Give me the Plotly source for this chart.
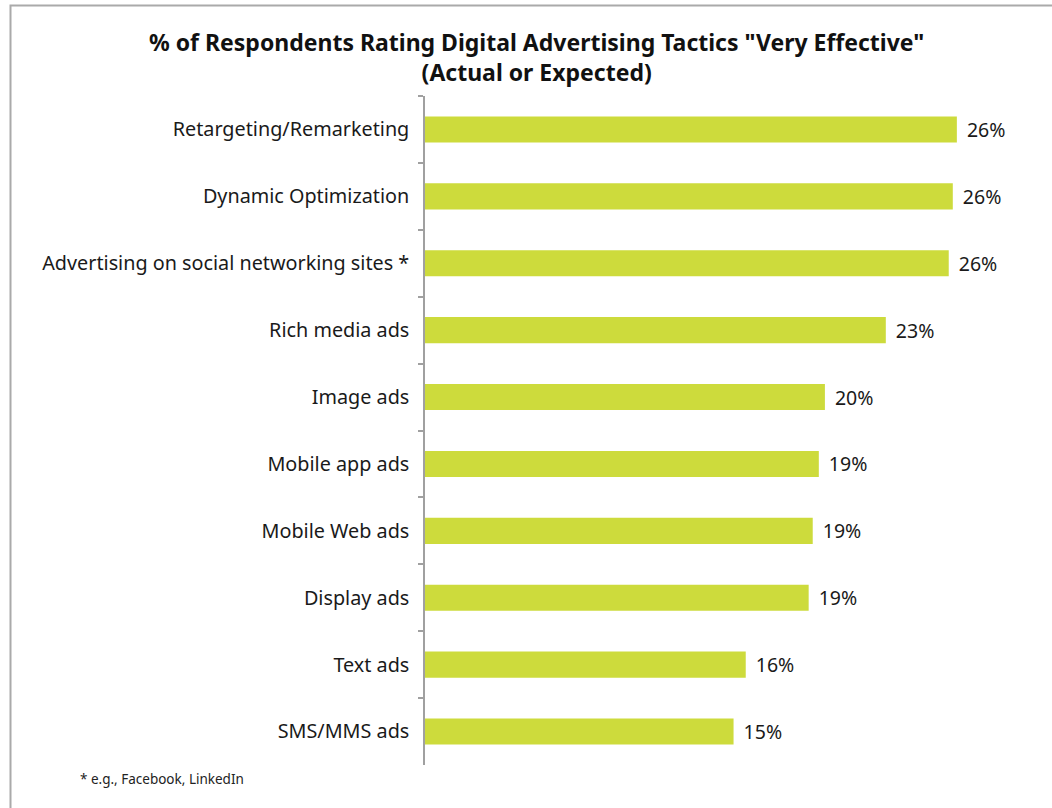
import plotly.graph_objects as go

# Tactics listed top to bottom, with the share of respondents rating each "very effective"
tactics = [
    "Retargeting/Remarketing",
    "Dynamic Optimization",
    "Advertising on social networking sites *",
    "Rich media ads",
    "Image ads",
    "Mobile app ads",
    "Mobile Web ads",
    "Display ads",
    "Text ads",
    "SMS/MMS ads",
]
pct_very_effective = [26.2, 26.0, 25.8, 22.7, 19.7, 19.4, 19.1, 18.9, 15.8, 15.2]

title_lines = ['% of Respondents Rating Digital Advertising Tactics "Very Effective"',
               "(Actual or Expected)"]
footnote = "* e.g., Facebook, LinkedIn"

W, H = 1052, 808
ML, MR, MT, MB = 425, 18, 96, 43
plot_w = W - ML - MR
plot_h = H - MT - MB


def px_x(px):
    return (px - ML) / plot_w


def px_y(py):
    return (H - MB - py) / plot_h


FONT = "Noto Sans"

fig = go.Figure(
    go.Bar(
        x=pct_very_effective,
        y=tactics,
        orientation="h",
        marker=dict(color="#CDDB3C", line=dict(width=0)),
        width=0.39,
        texttemplate="\u00a0\u200a%{x:.0f}%",
        textposition="outside",
        constraintext="none",
        textfont=dict(family=FONT, size=19.5, color="#1a1a1a"),
        cliponaxis=False,
    )
)

fig.update_layout(
    width=W,
    height=H,
    margin=dict(l=ML, r=MR, t=MT, b=MB),
    paper_bgcolor="white",
    plot_bgcolor="white",
    showlegend=False,
    xaxis=dict(range=[0, 30], visible=False),
    yaxis=dict(
        autorange="reversed",
        showline=True,
        linecolor="#A0A0A0",
        linewidth=1.5,
        ticks="outside",
        tickson="boundaries",
        ticklen=5,
        tickcolor="#A0A0A0",
        tickwidth=1.5,
        ticklabelstandoff=10,
        tickfont=dict(family=FONT, size=19.8, color="#1a1a1a"),
        showgrid=False,
    ),
    annotations=[
        dict(
            text="<b>" + title_lines[0] + "</b><br><b>" + title_lines[1] + "</b>",
            xref="paper", yref="paper",
            x=px_x(536), y=px_y(57),
            xanchor="center", yanchor="middle",
            showarrow=False,
            font=dict(family=FONT, size=23, color="#111111"),
        ),
        dict(
            text=footnote,
            xref="paper", yref="paper",
            x=px_x(78), y=px_y(779),
            xanchor="left", yanchor="middle",
            showarrow=False,
            font=dict(family=FONT, size=13.5, color="#222222"),
        ),
    ],
    shapes=[
        dict(
            type="path",
            xref="paper", yref="paper",
            path=f"M {px_x(10.5)},{px_y(830)} L {px_x(10.5)},{px_y(5.5)} L {px_x(1070)},{px_y(5.5)}",
            line=dict(color="#AAAAAA", width=2),
        )
    ],
)

fig.write_html("out.html")
